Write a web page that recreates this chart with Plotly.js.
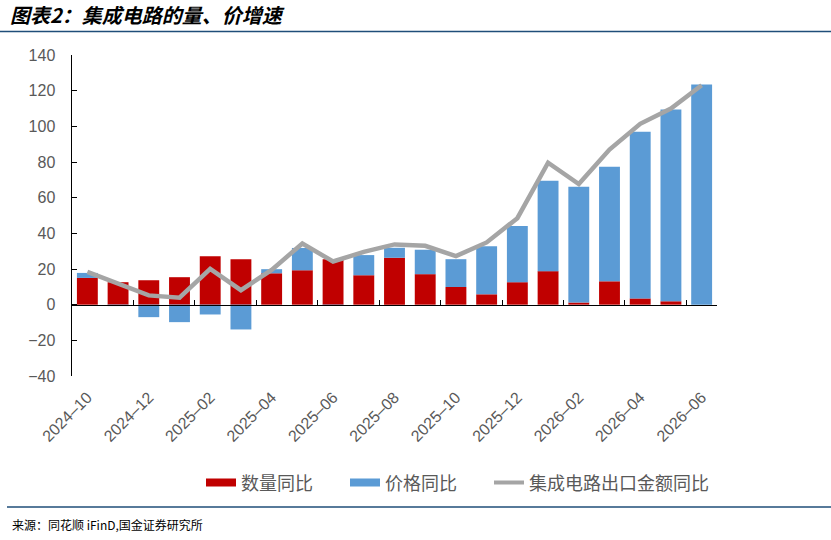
<!DOCTYPE html>
<html>
<head>
<meta charset="utf-8">
<script src="https://cdn.plot.ly/plotly-3.0.1.min.js"></script>
<style>
  body { margin: 0; background: #fff; }
  #chart { width: 831px; height: 540px; }
</style>
</head>
<body>
<div id="chart"></div>
<script>
// months shown on the x axis (monthly, every other one labelled)
var months = ['2024-10','2024-11','2024-12','2025-01','2025-02','2025-03','2025-04','2025-05',
  '2025-06','2025-07','2025-08','2025-09','2025-10','2025-11','2025-12','2026-01',
  '2026-02','2026-03','2026-04','2026-05','2026-06']

// 数量同比 (%)
var qtyYoy = [15.0, 12.6, 13.7, 15.4, 27.2, 25.5, 17.6, 19.3, 25.5, 16.5, 26.3, 17.1,
  9.9, 5.8, 12.6, 18.8, 1.2, 13.1, 3.5, 1.9, 0]

// 价格同比 (%)
var priceYoy = [2.8, -0.8, -7.0, -9.8, -5.5, -13.9, 2.3, 12.5, -0.5, 11.3, 5.6, 13.7,
  15.6, 27.0, 31.5, 50.7, 64.9, 64.3, 93.5, 107.6, 123.5]

// 集成电路出口金额同比 (%)
var valueYoy = [18.4, 11.5, 5.2, 3.9, 20.1, 8.1, 19.5, 34.3, 24.2, 29.6, 33.8, 33.0,
  27.2, 34.9, 48.5, 79.6, 67.6, 87.0, 101.4, 110.0, 123.0]

var tickMonths = months.filter((m, i) => i % 2 == 0)
var tickText = tickMonths.map(m => m.replace('-', '–'))

var red = '#C00000', blue = '#5B9BD5', grey = '#A5A5A5'
var tickFont = {family: 'Liberation Sans, Arial, sans-serif', size: 16, color: '#595959'}
var cjk = 'Noto Sans CJK SC, sans-serif'
var pad = '\u3000\u2002'  // extra room between legend items

var traces = [
  {type: 'bar', x: months, y: qtyYoy, name: '数量同比', marker: {color: red}, showlegend: false},
  {type: 'bar', x: months, y: priceYoy, name: '价格同比', marker: {color: blue}, showlegend: false},
  {type: 'scatter', mode: 'lines', x: months, y: valueYoy, name: '集成电路出口金额同比',
    xaxis: 'x2', line: {color: grey, width: 4.5}, showlegend: false},
  // legend-only entries (wide swatches like the original)
  {type: 'scatter', mode: 'lines', x: [null], y: [null], name: '数量同比' + pad, line: {color: red, width: 8}},
  {type: 'scatter', mode: 'lines', x: [null], y: [null], name: '价格同比' + pad, line: {color: blue, width: 8}},
  {type: 'scatter', mode: 'lines', x: [null], y: [null], name: '集成电路出口金额同比', line: {color: grey, width: 4}}
]

var layout = {
  width: 831, height: 540,
  margin: {l: 72, r: 114, t: 55, b: 164},
  paper_bgcolor: '#fff', plot_bgcolor: '#fff',
  barmode: 'relative', bargap: 0.32,
  title: {
    text: '图表2：集成电路的量、价增速',
    font: {family: cjk, size: 20, color: '#000', weight: 'bold', style: 'italic'},
    x: 0.012, xref: 'container', xanchor: 'left',
    y: 0.97, yref: 'container', yanchor: 'middle'
  },
  xaxis: {
    type: 'category', range: [-0.5, 20.5],
    tickmode: 'array', tickvals: tickMonths, ticktext: tickText,
    tickangle: -45, tickfont: tickFont, ticks: '', ticklabelstandoff: 8,
    showline: false, showgrid: false, zeroline: false, fixedrange: true
  },
  xaxis2: {
    type: 'category', range: [-0.5, 20.5], overlaying: 'x',
    anchor: 'free', position: 40 / 180,
    tickmode: 'array', tickvals: tickMonths, tickson: 'boundaries',
    ticks: 'inside', ticklen: 5, tickwidth: 1, tickcolor: '#000',
    showticklabels: false, showline: true, linecolor: '#000', linewidth: 1.5,
    showgrid: false, zeroline: false
  },
  yaxis: {
    range: [-40, 140], dtick: 20, domain: [0, 1],
    tickfont: tickFont, ticks: 'inside', ticklen: 5, tickcolor: '#000',
    showline: true, linecolor: '#000', linewidth: 1.5,
    showgrid: false, zeroline: false, ticklabelstandoff: 12
  },
  legend: {
    orientation: 'h', x: (201 - 72) / 645, xanchor: 'left', y: -0.333, yanchor: 'middle',
    font: {family: cjk, size: 18, color: '#595959'},
    traceorder: 'normal'
  },
  shapes: [
    {type: 'line', xref: 'paper', yref: 'paper', x0: -72 / 645, x1: 759 / 645,
      y0: (376 - 31.5) / 321, y1: (376 - 31.5) / 321, line: {color: '#1F4E79', width: 1.5}},
    {type: 'line', xref: 'paper', yref: 'paper', x0: -65 / 645, x1: 759 / 645,
      y0: (376 - 507) / 321, y1: (376 - 507) / 321, line: {color: '#1F4E79', width: 1.5}}
  ],
  annotations: [
    {text: '来源：同花顺 iFinD,国金证券研究所', showarrow: false,
      xref: 'paper', yref: 'paper', x: -62 / 645, xanchor: 'left',
      y: (376 - 524) / 321, yanchor: 'middle',
      font: {family: cjk, size: 12, color: '#000'}}
  ]
}

Plotly.newPlot('chart', traces, layout, {displayModeBar: false, staticPlot: true})
</script>
</body>
</html>
